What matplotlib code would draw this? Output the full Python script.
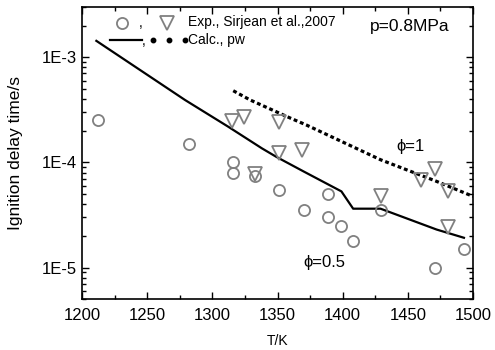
import matplotlib
matplotlib.use("Agg")
import matplotlib.pyplot as plt
from matplotlib.lines import Line2D
from matplotlib.ticker import MultipleLocator, LogLocator, FixedLocator, FixedFormatter, NullFormatter

plt.rcParams['font.family'] = ['Liberation Sans', 'DejaVu Sans']

# Experimental data, phi = 0.5 (circles)
exp05_T = [1212, 1282, 1316, 1316, 1333, 1351, 1370, 1389, 1389, 1399, 1408, 1429, 1471, 1493]
exp05_tau = [2.53e-4, 1.5e-4, 1.0e-4, 8.0e-5, 7.5e-5, 5.5e-5, 3.5e-5, 5.0e-5, 3.0e-5, 2.5e-5, 1.8e-5, 3.5e-5, 1.0e-5, 1.5e-5]

# Experimental data, phi = 1 (triangles)
exp1_T = [1315, 1324, 1351, 1351, 1369, 1333, 1429, 1460, 1471, 1481, 1481]
exp1_tau = [2.5e-4, 2.72e-4, 2.44e-4, 1.22e-4, 1.3e-4, 7.8e-5, 4.8e-5, 6.8e-5, 8.7e-5, 5.3e-5, 2.44e-5]

# Calculated, phi = 0.5 (solid)
calc05_T = [1211, 1279, 1312, 1338, 1349, 1370, 1399, 1408, 1429, 1472, 1493]
calc05_tau = [1.43e-3, 3.92e-4, 2.19e-4, 1.36e-4, 1.13e-4, 8.2e-5, 5.3e-5, 3.63e-5, 3.63e-5, 2.3e-5, 1.92e-5]

# Calculated, phi = 1 (dotted)
calc1_T = [1316, 1329, 1360, 1372, 1429, 1472, 1500]
calc1_tau = [4.8e-4, 3.92e-4, 2.63e-4, 2.27e-4, 1.06e-4, 6.6e-5, 4.75e-5]

ytick_vals = [1e-5, 1e-4, 1e-3]
ytick_labels = ['1E-5', '1E-4', '1E-3']

fig = plt.figure(figsize=(4.95, 3.5), dpi=100)
ax = fig.add_axes([0.1657, 0.145, 0.79, 0.835])

gray = '#808080'
ax.plot(calc05_T, calc05_tau, color='black', lw=1.6, zorder=3)
ax.plot(calc1_T, calc1_tau, color='black', lw=2.3, linestyle=(0, (1.2, 0.9)), zorder=3)
ax.plot(exp05_T, exp05_tau, linestyle='none', marker='o', ms=8, mfc='none', mec=gray, mew=1.3, zorder=4)
ax.plot(exp1_T, exp1_tau, linestyle='none', marker='v', ms=10, mfc='none', mec=gray, mew=1.3, zorder=4)

ax.set_yscale('log')
ax.set_xlim(1200, 1500)
ax.set_ylim(5e-6, 3e-3)
ax.xaxis.set_major_locator(MultipleLocator(50))
ax.xaxis.set_minor_locator(MultipleLocator(25))
ax.yaxis.set_major_locator(FixedLocator(ytick_vals))
ax.yaxis.set_major_formatter(FixedFormatter(ytick_labels))
ax.yaxis.set_minor_locator(LogLocator(base=10, subs=range(2, 10)))
ax.yaxis.set_minor_formatter(NullFormatter())
ax.tick_params(which='both', direction='in', top=True, right=True, labelsize=12, width=1)
ax.tick_params(which='major', length=5)
ax.tick_params(which='minor', length=3)
ax.tick_params(axis='x', pad=6)
for s in ax.spines.values():
    s.set_linewidth(1.2)

ax.set_xlabel('T/K', fontsize=10, labelpad=8)
ax.set_ylabel('Ignition delay time/s', fontsize=12.5, labelpad=14)

# legend (drawn manually)
tr = ax.transAxes
ax.add_line(Line2D([0.1015], [0.946], transform=tr, marker='o', ms=8, mfc='none', mec=gray, mew=1.3, ls='none'))
ax.add_line(Line2D([0.2166], [0.946], transform=tr, marker='v', ms=10, mfc='none', mec=gray, mew=1.3, ls='none'))
ax.text(0.145, 0.946, ',', transform=tr, fontsize=10, va='center')
ax.text(0.272, 0.948, 'Exp., Sirjean et al.,2007', transform=tr, fontsize=10, va='center')
ax.add_line(Line2D([0.0716, 0.1527], [0.887, 0.887], transform=tr, color='black', lw=1.6))
ax.text(0.153, 0.884, ',', transform=tr, fontsize=10, va='center')
ax.add_line(Line2D([0.1816, 0.2225, 0.2635], [0.887, 0.887, 0.887], transform=tr, color='black',
                   ls='none', marker='o', ms=3.2))
ax.text(0.272, 0.887, 'Calc., pw', transform=tr, fontsize=10, va='center')

ax.text(0.7366, 0.9326, 'p=0.8MPa', transform=tr, fontsize=12.5, va='center')
ax.text(0.805, 0.522, 'ϕ=1', transform=tr, fontsize=12, va='center')
ax.text(0.566, 0.125, 'ϕ=0.5', transform=tr, fontsize=12, va='center')

fig.savefig('out.png', dpi=100)
